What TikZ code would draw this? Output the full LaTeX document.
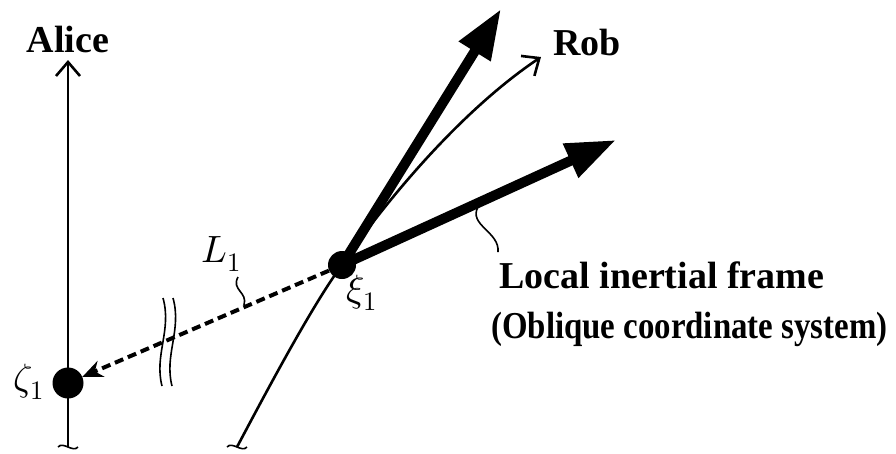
\documentclass[tikz,border=0pt]{standalone}
\usepackage{fontspec}
\usepackage{unicode-math}
\setmainfont{Liberation Serif}
\setmathfont{Latin Modern Math}
\usetikzlibrary{arrows.meta}
\begin{document}
\begin{tikzpicture}[x=1pt,y=-1pt,
  dot/.style={circle,fill=black,inner sep=0pt},
  lbl/.style={font=\fontsize{38}{40}\selectfont\bfseries,inner sep=0pt},
  mlbl/.style={font=\fontsize{38}{42}\selectfont,inner sep=0pt},
  thick arrow/.style={line width=10pt,-{Triangle[length=50pt,width=35pt]}},
  thin arrow/.style={line width=2.6pt,-{Straight Barb[length=14pt,width=24pt,line width=2.6pt]}},
  wiggle/.style={line width=1.6pt}]
\useasboundingbox (0,0) rectangle (896,453);
% nodes
\node[dot,minimum size=31pt] (z) at (68,383) {};
\node[dot,minimum size=28pt] (x) at (342,265) {};
\coordinate (abot) at (68,447);
\coordinate (atop) at (68,60);
\coordinate (rbot) at (237,447);
\coordinate (rtop) at (541,57);
\coordinate (t1) at (501,9);
\coordinate (t2) at (616,140);
% labels
\node[lbl,anchor=base] (alice) at (68,52) {Alice};
\node[lbl,anchor=base west] (rob) at (553,55) {Rob};
\node[lbl,anchor=base west] (lif) at (499,288) {Local inertial frame};
\node[lbl,anchor=base west] (ocs) at (491,338) {\scalebox{0.865}[1]{(Oblique coordinate system)}};
\node[mlbl] (zl) at (29,382) {$\zeta_1$};
\node[mlbl] (xl) at (362,293) {$\xi_1$};
\node[mlbl] (ll) at (221,254) {$L_1$};
% Alice worldline
\draw[thin arrow] (abot) -- (atop);
\draw[wiggle] (58,447) .. controls (63,441) and (73,453) .. (78,447);
% Rob worldline
\draw[line width=2.6pt] (rbot) .. controls (262,400) and (312,305) .. (x.center);
\draw[thin arrow] (x.center) .. controls (370,223) and (450,118) .. (rtop);
\draw[wiggle] (227,447) .. controls (232,441) and (242,453) .. (247,447);
% local frame
\draw[thick arrow] (x.center) -- (t1);
\draw[thick arrow] (x.center) -- (t2);
\draw[wiggle] (478,207) .. controls (468,225) and (500,232) .. (498,252);
% dashed distance
\draw[line width=4pt,dash pattern=on 9pt off 5pt,-{Stealth[length=20pt,width=17pt]}] (x) -- (z);
\draw[wiggle] (163,298) .. controls (172,330) and (154,355) .. (162,386);
\draw[wiggle] (173,298) .. controls (182,330) and (164,355) .. (172,386);
\draw[wiggle] (238,277) .. controls (231,290) and (248,292) .. (244,305);
\end{tikzpicture}
\end{document}
